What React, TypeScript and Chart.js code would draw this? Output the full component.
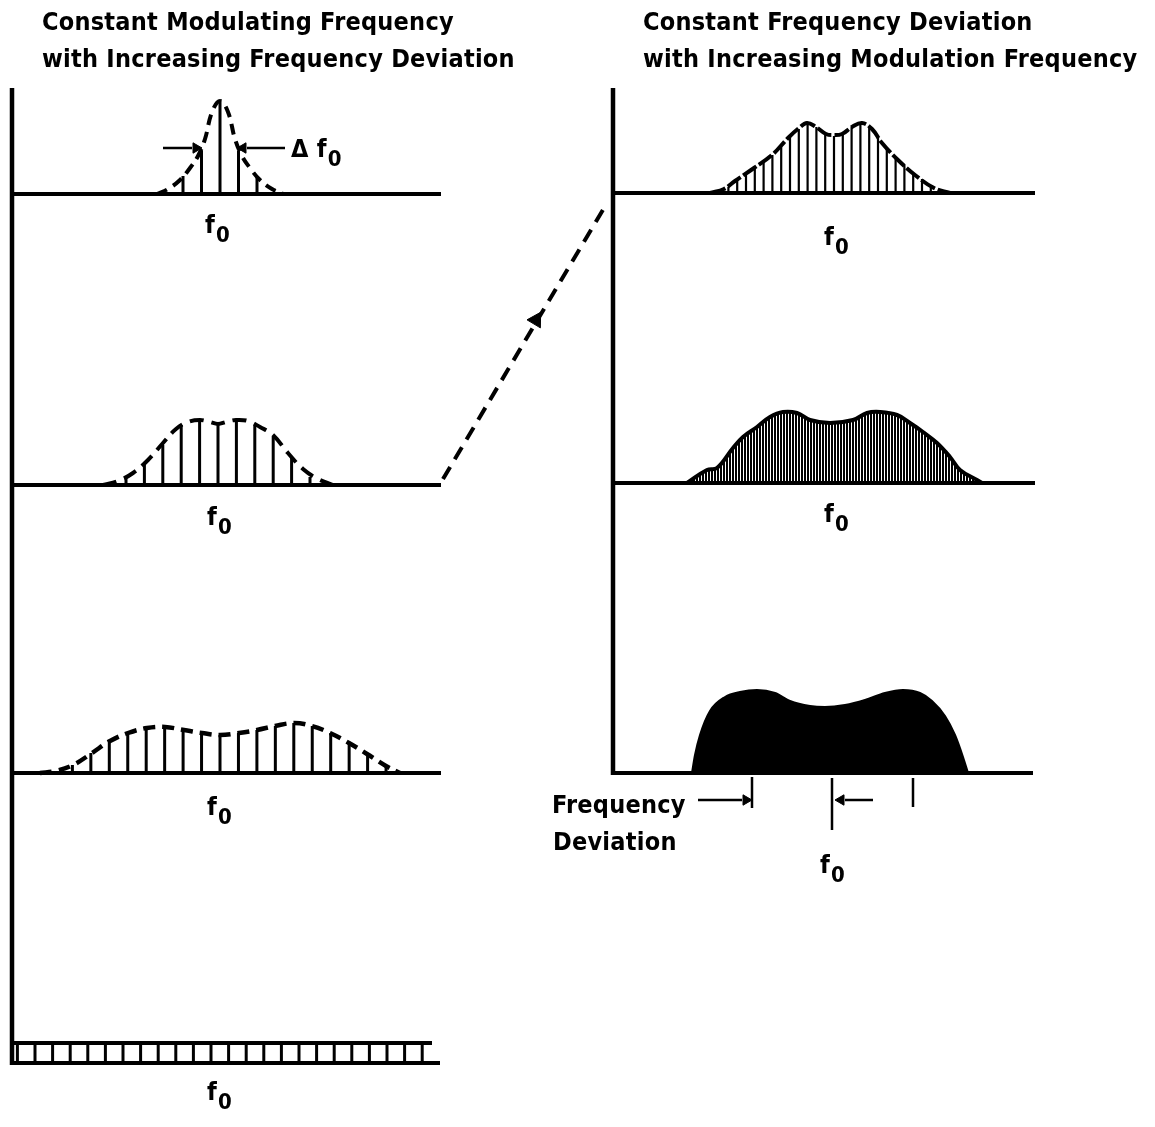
import React, { useEffect, useRef } from "react";
import { Chart, registerables } from "chart.js";

Chart.register(...registerables);

// ---------------- DATA ----------------
// Left column: constant modulating frequency, increasing frequency deviation
const leftCenter = 220;
const leftBaselines = [194, 485, 773];

// Panel L1 (narrow deviation)
const l1Spacing = 18.5;
const l1Sidebands = [-2, -1, 0, 1, 2];
const l1Amplitudes = [18, 43, 93, 43, 18];
const l1EnvOffsets = [-63, -52, -40, -30, -22, -15, -8, 0, 8, 15, 22, 30, 40, 52, 63];
const l1EnvAmps = [0, 5, 14, 26, 38, 55, 82, 93, 82, 55, 38, 26, 14, 5, 0];

// Panel L2
const l2Spacing = 18.4;
const l2Sidebands = [-5, -4, -3, -2, -1, 0, 1, 2, 3, 4, 5];
const l2Amplitudes = [7, 20, 40, 60, 63, 60, 63, 60, 48, 27, 8];
const l2EnvOffsets = [-115, -100, -85, -70, -55, -42, -30, -18, -8, 0, 8, 18, 30, 42, 55, 70, 85, 100, 115];
const l2EnvAmps = [0, 4, 12, 25, 42, 56, 63, 65, 63, 61, 63, 65, 64, 58, 50, 32, 16, 6, 0];

// Panel L3
const l3Spacing = 18.45;
const l3Sidebands = [-8, -7, -6, -5, -4, -3, -2, -1, 0, 1, 2, 3, 4, 5, 6, 7, 8, 9];
const l3Amplitudes = [8, 20, 32, 40, 45, 46, 43, 40, 38, 40, 43, 47, 50, 47, 40, 30, 19, 7];
const l3EnvOffsets = [-180, -165, -147, -128, -110, -92, -73, -55, -36, -18, 0, 19, 37, 55, 74, 92, 110, 129, 147, 166, 180];
const l3EnvAmps = [0, 2, 8, 20, 32, 40, 45, 46, 43, 40, 38, 40, 43, 47, 50, 47, 40, 30, 19, 7, 0];

// Panel L4 (very wide deviation: flat comb)
const l4Center = 211;
const l4Base = 1063;
const l4Top = 1043;
const l4Spacing = 17.6;
const l4Sidebands = [-11, -10, -9, -8, -7, -6, -5, -4, -3, -2, -1, 0, 1, 2, 3, 4, 5, 6, 7, 8, 9, 10, 11, 12];
const l4Amplitudes = [20, 20, 20, 20, 20, 20, 20, 20, 20, 20, 20, 20, 20, 20, 20, 20, 20, 20, 20, 20, 20, 20, 20, 20];

// Right column: constant frequency deviation, increasing modulation frequency
const rightBaselines = [193, 483, 773];

// Panel R1
const r1Center = 834;
const r1Spacing = 8.8;
const r1Sidebands = [-12, -11, -10, -9, -8, -7, -6, -5, -4, -3, -2, -1, 0, 1, 2, 3, 4, 5, 6, 7, 8, 9, 10, 11, 12];
const r1Amplitudes = [6, 13, 19, 25, 31, 38, 47, 56, 64, 69, 66, 59, 57, 59, 66, 69, 66, 56, 46, 35, 28, 20, 14, 8, 3];
const r1EnvOffsets = [-124, -110, -99, -80, -62, -46, -35, -27, -18, -8, 0, 8, 18, 28, 38, 48, 64, 81, 100, 116];
const r1EnvAmps = [0, 4, 12, 25, 38, 55, 65, 70, 66, 59, 58, 59, 66, 70, 64, 50, 33, 18, 5, 0];

// Panel R2 (dense lines)
const r2Center = 832;
const r2EnvOffsets = [-145, -125, -115, -99, -89, -75, -62, -49, -35, -22, -2, 21, 35, 48, 65, 78, 91, 105, 118, 128, 145, 150];
const r2EnvAmps = [0, 13, 15, 35, 46, 56, 66, 71, 70, 63, 60, 63, 70, 71, 68, 60, 51, 40, 26, 13, 3, 0];

// Panel R3 (continuous spectrum)
const r3Center = 832;
const r3EnvOffsets = [-140, -137, -132, -122, -107, -92, -75, -57, -42, -22, -7, 13, 33, 53, 71, 88, 100, 113, 123, 131, 136];
const r3EnvAmps = [0, 18, 38, 62, 76, 81, 83, 80, 72, 67, 66, 68, 73, 80, 83, 80, 72, 57, 38, 16, 0];

// Annotation marks
const deltaArrowLines = [
  [163, 148, 192, 148],
  [285, 148, 247, 148],
];
const deviationTicks = [
  [752, 777, 752, 808],
  [832, 778, 832, 830],
  [913, 778, 913, 807],
];
const deviationArrowLines = [
  [698, 800, 742, 800],
  [873, 800, 845, 800],
];
const transitionLine = [
  [443, 479],
  [604, 208],
];
const arrowHeadX = [196, 243, 746, 841, 536];
const arrowHeadY = [148, 148, 800, 800, 320];
const arrowHeadRot = [90, -90, 90, -90, 31];
const arrowHeadSize = [6, 6, 6, 6, 9];

// Text
const leftTitle = ["Constant Modulating Frequency", "with Increasing Frequency Deviation"];
const rightTitle = ["Constant Frequency Deviation", "with Increasing Modulation Frequency"];
const f0Labels = [
  { x: 205, y: 233 },
  { x: 207, y: 525 },
  { x: 207, y: 815 },
  { x: 207, y: 1100 },
  { x: 824, y: 245 },
  { x: 824, y: 522 },
  { x: 820, y: 873 },
];

// ---------------- HELPERS ----------------
type Pt = { x: number; y: number | null };

function stems(center: number, spacing: number, sidebands: number[], amps: number[], base: number): Pt[] {
  const out: Pt[] = [];
  sidebands.forEach((k, i) => {
    const x = center + k * spacing;
    out.push({ x, y: base }, { x, y: base - amps[i] }, { x, y: null });
  });
  return out;
}

function envelope(center: number, offsets: number[], amps: number[], base: number): Pt[] {
  return offsets.map((o, i) => ({ x: center + o, y: base - amps[i] }));
}

function segs(list: number[][]): Pt[] {
  const out: Pt[] = [];
  list.forEach((s) => {
    out.push({ x: s[0], y: s[1] }, { x: s[2], y: s[3] }, { x: s[2], y: null });
  });
  return out;
}

const FONT = '"DejaVu Sans Condensed", "DejaVu Sans", sans-serif';

function line(data: Pt[], width: number, extra: any = {}) {
  return {
    type: "scatter" as const,
    data,
    showLine: true,
    borderColor: "#000",
    backgroundColor: "#000",
    borderWidth: width,
    pointRadius: 0,
    spanGaps: false,
    tension: 0,
    ...extra,
  };
}

const textStyle: React.CSSProperties = {
  position: "absolute",
  fontFamily: FONT,
  fontStretch: "condensed",
  fontWeight: 700,
  fontSize: 25,
  letterSpacing: 0.25,
  lineHeight: "25px",
  whiteSpace: "nowrap",
  color: "#000",
};

function F0({ x, y, prefix }: { x: number; y: number; prefix?: string }) {
  return (
    <div style={{ ...textStyle, left: x, top: y - 21 }}>
      {prefix}
      f
      <span style={{ fontSize: 22, position: "relative", top: 9, marginLeft: 1 }}>0</span>
    </div>
  );
}

function Txt({ x, y, text }: { x: number; y: number; text: string }) {
  return <div style={{ ...textStyle, left: x, top: y - 21 }}>{text}</div>;
}

export default function App() {
  const ref = useRef<HTMLCanvasElement | null>(null);

  useEffect(() => {
    const canvas = ref.current;
    if (!canvas) return;

    // vertical-stripe pattern for the dense line spectrum
    const pc = document.createElement("canvas");
    pc.width = 3;
    pc.height = 4;
    const pctx = pc.getContext("2d")!;
    pctx.fillStyle = "#fff";
    pctx.fillRect(0, 0, 3, 4);
    pctx.fillStyle = "#000";
    pctx.fillRect(0, 0, 2, 4);
    const stripe = canvas.getContext("2d")!.createPattern(pc, "repeat");

    const [lb1, lb2, lb3] = leftBaselines;
    const [rb1, rb2, rb3] = rightBaselines;

    const datasets: any[] = [
      // axes and baselines
      line(segs([[12, 88, 12, l4Base + 2]]), 4.5),
      line(segs([[613, 88, 613, rb3 + 2]]), 4.5),
      line(segs([[12, lb1, 441, lb1], [12, lb2, 441, lb2], [12, lb3, 441, lb3]]), 4),
      line(segs([[12, l4Top, 432, l4Top], [12, l4Base, 440, l4Base]]), 4),
      line(segs([[613, rb1, 1035, rb1], [613, rb2, 1035, rb2], [611, rb3, 1033, rb3]]), 4),

      // L1
      line(stems(leftCenter, l1Spacing, l1Sidebands, l1Amplitudes, lb1), 3),
      line(envelope(leftCenter, l1EnvOffsets, l1EnvAmps, lb1), 4, { borderDash: [11, 7], tension: 0.4 }),
      // L2
      line(stems(leftCenter - 2, l2Spacing, l2Sidebands, l2Amplitudes, lb2), 3),
      line(envelope(leftCenter - 2, l2EnvOffsets, l2EnvAmps, lb2), 4, { borderDash: [14, 8], tension: 0.4 }),
      // L3
      line(stems(leftCenter, l3Spacing, l3Sidebands, l3Amplitudes, lb3), 3),
      line(envelope(leftCenter, l3EnvOffsets, l3EnvAmps, lb3), 4.5, { borderDash: [12, 7], tension: 0.4 }),
      // L4
      line(stems(l4Center, l4Spacing, l4Sidebands, l4Amplitudes, l4Base), 3),

      // R1
      line(stems(r1Center, r1Spacing, r1Sidebands, r1Amplitudes, rb1), 2.2),
      line(envelope(r1Center, r1EnvOffsets, r1EnvAmps, rb1), 4, { borderDash: [16, 3], tension: 0.4 }),
      // R2
      line(envelope(r2Center, r2EnvOffsets, r2EnvAmps, rb2), 4, {
        tension: 0.4,
        fill: { value: rb2 },
        backgroundColor: stripe,
      }),
      // R3
      line(envelope(r3Center, r3EnvOffsets, r3EnvAmps, rb3), 2, {
        cubicInterpolationMode: "monotone",
        fill: { value: rb3 },
        backgroundColor: "#000",
      }),

      // annotations
      line(segs(deltaArrowLines), 2.5),
      line(segs(deviationTicks), 2.5),
      line(segs(deviationArrowLines), 2.5),
      line(transitionLine.map((p) => ({ x: p[0], y: p[1] })), 4, { borderDash: [14, 9] }),
      {
        type: "scatter",
        data: arrowHeadX.map((x, i) => ({ x, y: arrowHeadY[i] })),
        showLine: false,
        pointStyle: "triangle",
        rotation: arrowHeadRot,
        pointRadius: arrowHeadSize,
        pointBackgroundColor: "#000",
        pointBorderColor: "#000",
        pointBorderWidth: 1,
      },
    ];

    const chart = new Chart(canvas, {
      type: "scatter",
      data: { datasets },
      options: {
        responsive: false,
        animation: false,
        devicePixelRatio: 1,
        events: [],
        layout: { padding: 0, autoPadding: false },
        plugins: { legend: { display: false }, tooltip: { enabled: false } },
        elements: { line: { borderCapStyle: "butt" } },
        scales: {
          x: { type: "linear", min: 0, max: 1155, display: false },
          y: { type: "linear", min: 0, max: 1127, reverse: true, display: false },
        },
      },
    } as any);

    return () => chart.destroy();
  }, []);

  return (
    <div style={{ position: "absolute", left: 0, top: 0, width: 1155, height: 1127, background: "#fff", overflow: "hidden" }}>
      <canvas ref={ref} width={1155} height={1127} style={{ position: "absolute", left: 0, top: 0 }} />
      <Txt x={42} y={30} text={leftTitle[0]} />
      <Txt x={42} y={67} text={leftTitle[1]} />
      <Txt x={643} y={30} text={rightTitle[0]} />
      <Txt x={643} y={67} text={rightTitle[1]} />
      <F0 x={291} y={157} prefix={"\u0394 "} />
      {f0Labels.map((p, i) => (
        <F0 key={i} x={p.x} y={p.y} />
      ))}
      <Txt x={552} y={813} text="Frequency" />
      <Txt x={553} y={850} text="Deviation" />
    </div>
  );
}
